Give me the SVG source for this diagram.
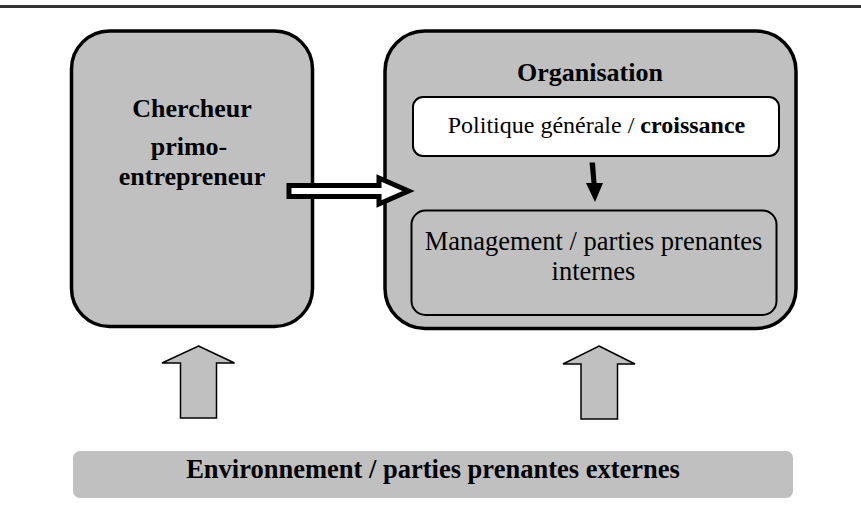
<svg xmlns="http://www.w3.org/2000/svg" width="861" height="520" viewBox="0 0 861 520">
<style>
.box{fill:#c0c0c0;stroke:#000;stroke-width:3.5}
.inner{stroke:#000;stroke-width:2}
.t{font-family:'Liberation Serif','DejaVu Serif',serif;fill:#000;text-anchor:middle}
.b{font-weight:bold}
.up{fill:#c0c0c0;stroke:#000;stroke-width:1.5;stroke-linejoin:miter}
</style>
<rect x="0" y="0" width="861" height="520" fill="#fff"/>
<line x1="0" y1="6.5" x2="861" y2="6.5" stroke="#333" stroke-width="3"/>
<g id="chercheur">
<rect class="box" x="71.5" y="31" width="241" height="295.5" rx="38" ry="38"/>
<text class="t b" font-family="Liberation Serif" x="192" y="117" font-size="26">Chercheur</text>
<text class="t b" font-family="Liberation Serif" x="189" y="155" font-size="26">primo-</text>
<text class="t b" font-family="Liberation Serif" x="192" y="185" font-size="26">entrepreneur</text>
</g>
<g id="organisation">
<rect class="box" x="385" y="31" width="411" height="297.5" rx="40" ry="40"/>
<text class="t b" font-family="Liberation Serif" x="590" y="81" font-size="26">Organisation</text>
</g>
<g id="politique">
<rect class="inner" fill="#fff" x="413" y="97" width="366" height="59" rx="10" ry="10"/>
<text class="t" font-family="Liberation Serif" x="596.5" y="133" font-size="24">Politique générale / <tspan font-weight="bold">croissance</tspan></text>
</g>
<g id="management">
<rect class="inner" fill="#c0c0c0" x="411.5" y="210.5" width="365" height="104.5" rx="14" ry="14"/>
<text class="t" font-family="Liberation Serif" x="593.5" y="250" font-size="26.5">Management / parties prenantes</text>
<text class="t" font-family="Liberation Serif" x="593.5" y="280" font-size="26.5">internes</text>
</g>
<g id="environnement">
<rect x="73" y="451" width="720" height="47" rx="7" ry="7" fill="#c0c0c0"/>
<text class="t b" font-family="Liberation Serif" x="433" y="478" font-size="26.5">Environnement / parties prenantes externes</text>
</g>
<g id="connectors">
<path d="M289,185.5 L379,185.5 L379,178 L408.5,191 L379,204 L379,196.5 L289,196.5 Z" fill="#fff" stroke="#000" stroke-width="5" stroke-linejoin="miter"/>
<polygon points="589.5,162.5 595,162.5 596.5,183 603,183 595,202 586,183 591.5,183" fill="#000"/>
<path class="up" d="M198.5,346 L234.5,363 L216.5,363 L216.5,418 L180.5,418 L180.5,363 L162,363 Z"/>
<path class="up" d="M599,346 L635,364 L617.5,364 L617.5,419 L581,419 L581,364 L563,364 Z"/>
</g>
</svg>
